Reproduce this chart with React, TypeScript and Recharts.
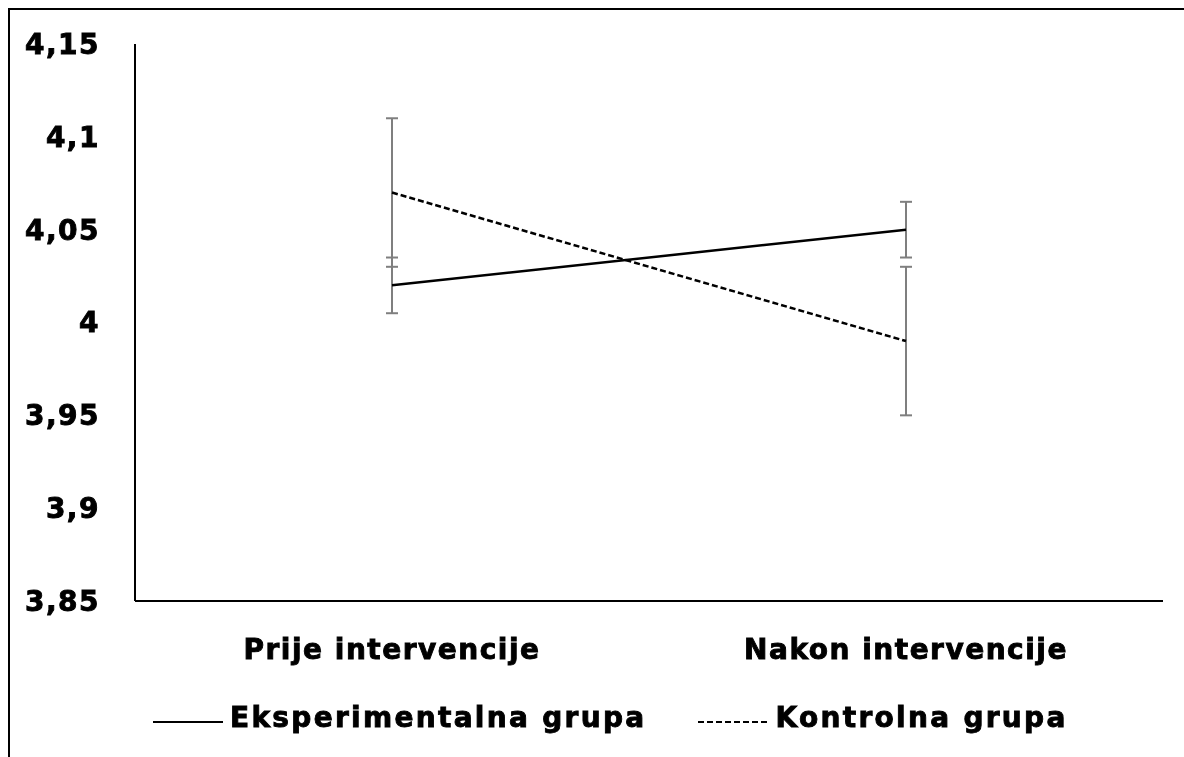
import { ErrorBar, Legend, Line, LineChart, XAxis, YAxis } from "recharts";

// values
const categories = ["Prije intervencije", "Nakon intervencije"];
const eksperimentalna = [4.02, 4.05];
const eksperimentalnaErr = [0.015, 0.015];
const kontrolna = [4.07, 3.99];
const kontrolnaErr = [0.04, 0.04];
const yTicks = [3.85, 3.9, 3.95, 4, 4.05, 4.1, 4.15];

const seriesNames = ["Eksperimentalna grupa", "Kontrolna grupa"];

const font = {
	fontFamily: "'DejaVu Sans', sans-serif",
	fontWeight: 700,
	fontSize: 28,
	letterSpacing: 1.5,
	fill: "#000",
	color: "#000",
};

// svg ticks get a thin stroke so the bold face looks as heavy as the original
const tickFont = { ...font, stroke: "#000", strokeWidth: 0.9 };
const spanFont = { ...font, letterSpacing: 2.3, WebkitTextStroke: "0.9px #000" };

const data = categories.map((name, i) => ({
	name,
	eksp: eksperimentalna[i],
	ekspErr: eksperimentalnaErr[i],
	kont: kontrolna[i],
	kontErr: kontrolnaErr[i],
}));

const LegendContent = () => (
	<div
		style={{
			display: "flex",
			alignItems: "center",
			paddingLeft: 153,
			paddingBottom: 4,
			height: 76,
			boxSizing: "border-box",
		}}
	>
		<svg width={70} height={4} style={{ marginTop: 10 }}>
			<line x1={0} y1={2} x2={70} y2={2} stroke="#000" strokeWidth={2} />
		</svg>
		<span style={{ ...spanFont, marginLeft: 7 }}>{seriesNames[0]}</span>
		<svg width={70} height={4} style={{ marginLeft: 52, marginTop: 10 }}>
			<line
				x1={0}
				y1={2}
				x2={70}
				y2={2}
				stroke="#000"
				strokeWidth={2}
				strokeDasharray="6 3"
			/>
		</svg>
		<span style={{ ...spanFont, marginLeft: 7 }}>{seriesNames[1]}</span>
	</div>
);

export default function App() {
	return (
		<div>
			{/* frame of the original picture, cropped on right and bottom */}
			<div
				style={{
					position: "fixed",
					left: 8,
					top: 8,
					right: 0,
					bottom: 0,
					borderLeft: "2px solid #000",
					borderTop: "2px solid #000",
				}}
			/>
			<div style={{ position: "absolute", left: 0, top: 0 }}>
				<LineChart
					width={1184}
					height={757}
					data={data}
					margin={{ top: 44, right: 21, left: 0, bottom: 0 }}
				>
					<XAxis
						dataKey="name"
						height={80}
						padding={{ left: 257, right: 257 }}
						axisLine={{ stroke: "#000", strokeWidth: 2 }}
						tickLine={false}
						tickSize={0}
						tickMargin={38}
						tick={tickFont}
						interval={0}
					/>
					<YAxis
						width={135}
						domain={[3.85, 4.15]}
						ticks={yTicks}
						axisLine={{ stroke: "#000", strokeWidth: 2 }}
						tickLine={false}
						tickSize={0}
						tickMargin={35}
						tick={tickFont}
						tickFormatter={(v: number) => String(v).replace(".", ",")}
					/>
					<Legend
						verticalAlign="bottom"
						content={LegendContent}
						wrapperStyle={{ left: 0, width: 1184 }}
					/>
					<Line
						dataKey="eksp"
						name={seriesNames[0]}
						stroke="#000"
						strokeWidth={2.5}
						dot={false}
						isAnimationActive={false}
					>
						<ErrorBar dataKey="ekspErr" width={6} stroke="#7f7f7f" strokeWidth={2} />
					</Line>
					<Line
						dataKey="kont"
						name={seriesNames[1]}
						stroke="#000"
						strokeWidth={2.5}
						strokeDasharray="6 3"
						dot={false}
						isAnimationActive={false}
					>
						<ErrorBar dataKey="kontErr" width={6} stroke="#7f7f7f" strokeWidth={2} />
					</Line>
				</LineChart>
			</div>
		</div>
	);
}
